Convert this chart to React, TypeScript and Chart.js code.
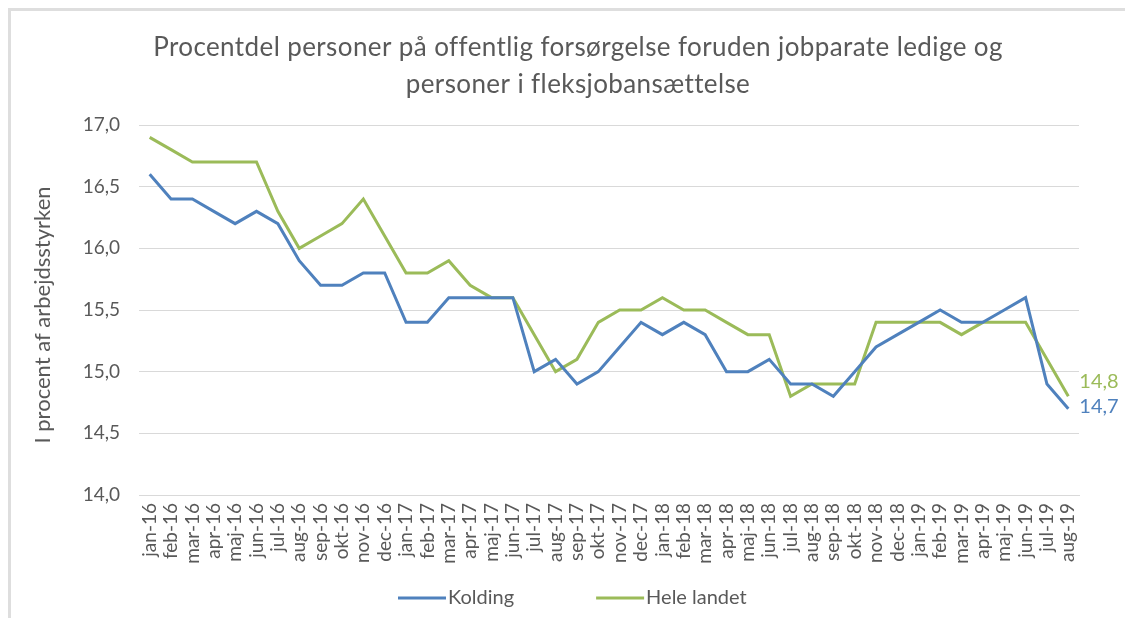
import React, { useEffect, useRef } from "react";
import { Chart, registerables } from "chart.js";

Chart.register(...registerables);

const months = [
  "jan-16", "feb-16", "mar-16", "apr-16", "maj-16", "jun-16", "jul-16", "aug-16", "sep-16", "okt-16", "nov-16", "dec-16",
  "jan-17", "feb-17", "mar-17", "apr-17", "maj-17", "jun-17", "jul-17", "aug-17", "sep-17", "okt-17", "nov-17", "dec-17",
  "jan-18", "feb-18", "mar-18", "apr-18", "maj-18", "jun-18", "jul-18", "aug-18", "sep-18", "okt-18", "nov-18", "dec-18",
  "jan-19", "feb-19", "mar-19", "apr-19", "maj-19", "jun-19", "jul-19", "aug-19",
];

const kolding = [
  16.6, 16.4, 16.4, 16.3, 16.2, 16.3, 16.2, 15.9, 15.7, 15.7, 15.8, 15.8,
  15.4, 15.4, 15.6, 15.6, 15.6, 15.6, 15.0, 15.1, 14.9, 15.0, 15.2, 15.4,
  15.3, 15.4, 15.3, 15.0, 15.0, 15.1, 14.9, 14.9, 14.8, 15.0, 15.2, 15.3,
  15.4, 15.5, 15.4, 15.4, 15.5, 15.6, 14.9, 14.7,
];

const heleLandet = [
  16.9, 16.8, 16.7, 16.7, 16.7, 16.7, 16.3, 16.0, 16.1, 16.2, 16.4, 16.1,
  15.8, 15.8, 15.9, 15.7, 15.6, 15.6, 15.3, 15.0, 15.1, 15.4, 15.5, 15.5,
  15.6, 15.5, 15.5, 15.4, 15.3, 15.3, 14.8, 14.9, 14.9, 14.9, 15.4, 15.4,
  15.4, 15.4, 15.3, 15.4, 15.4, 15.4, 15.1, 14.8,
];

const seriesNames = ["Kolding", "Hele landet"];
const seriesColors = ["#4F81BD", "#9BBB59"];

const titleLines = [
  "Procentdel personer på offentlig forsørgelse foruden jobparate ledige og",
  "personer i fleksjobansættelse",
];
const yAxisTitle = "I procent af arbejdsstyrken";
const yMin = 14;
const yMax = 17;
const yStep = 0.5;

const TEXT = "#595959";
const FONT = "Lato, 'Open Sans', sans-serif";

const fmt = (v: number) => Number(v).toFixed(1).replace(".", ",");

const titlePlugin = {
  id: "customTitle",
  afterDraw(chart: any) {
    const ctx = chart.ctx;
    ctx.save();
    ctx.font = `26px ${FONT}`;
    (ctx as any).letterSpacing = "0.4px";
    ctx.fillStyle = TEXT;
    ctx.textAlign = "center";
    ctx.textBaseline = "middle";
    titleLines.forEach((line, i) => {
      ctx.fillText(line, 578, 48 + i * 37);
    });
    ctx.restore();
  },
};

const yTitlePlugin = {
  id: "customYTitle",
  afterDraw(chart: any) {
    const ctx = chart.ctx;
    const area = chart.chartArea;
    ctx.save();
    ctx.font = `22px ${FONT}`;
    ctx.fillStyle = TEXT;
    ctx.textAlign = "center";
    ctx.textBaseline = "middle";
    ctx.translate(43, (area.top + area.bottom) / 2 + 5);
    ctx.rotate(-Math.PI / 2);
    ctx.fillText(yAxisTitle, 0, 0);
    ctx.restore();
  },
};

const endLabelPlugin = {
  id: "endLabels",
  afterDatasetsDraw(chart: any) {
    const ctx = chart.ctx;
    const dy = [-2, -15];
    chart.data.datasets.forEach((ds: any, i: number) => {
      const meta = chart.getDatasetMeta(i);
      const last = meta.data[meta.data.length - 1];
      if (!last) return;
      ctx.save();
      ctx.font = `20px ${FONT}`;
      ctx.fillStyle = ds.borderColor;
      ctx.textAlign = "left";
      ctx.textBaseline = "middle";
      ctx.fillText(fmt(ds.data[ds.data.length - 1]), last.x + 11, last.y + dy[i]);
      ctx.restore();
    });
  },
};

const legendPlugin = {
  id: "customLegend",
  afterDraw(chart: any) {
    const ctx = chart.ctx;
    ctx.save();
    ctx.font = `20px ${FONT}`;
    ctx.textBaseline = "middle";
    let x = 398;
    const y = 598;
    chart.data.datasets.forEach((ds: any) => {
      ctx.strokeStyle = ds.borderColor;
      ctx.lineWidth = 3;
      ctx.beginPath();
      ctx.moveTo(x, y);
      ctx.lineTo(x + 48, y);
      ctx.stroke();
      ctx.fillStyle = TEXT;
      ctx.fillText(ds.label, x + 50, y);
      x += 50 + ctx.measureText(ds.label).width + 82;
    });
    ctx.restore();
  },
};

export default function App() {
  const ref = useRef<HTMLCanvasElement>(null);

  useEffect(() => {
    if (!ref.current) return;
    const chart = new Chart(ref.current, {
      type: "line",
      data: {
        labels: months,
        datasets: [
          {
            label: seriesNames[0],
            data: kolding,
            borderColor: seriesColors[0],
            backgroundColor: seriesColors[0],
            borderWidth: 3,
            pointRadius: 0,
            tension: 0,
          },
          {
            label: seriesNames[1],
            data: heleLandet,
            borderColor: seriesColors[1],
            backgroundColor: seriesColors[1],
            borderWidth: 3,
            pointRadius: 0,
            tension: 0,
          },
        ],
      },
      options: {
        animation: false,
        responsive: false,
        maintainAspectRatio: false,
        layout: { padding: { left: 10, right: 46, top: 125, bottom: 43 } },
        plugins: {
          legend: { display: false },
          tooltip: { enabled: false },
          title: { display: false },
        },
        scales: {
          x: {
            offset: true,
            grid: { display: false, drawTicks: false },
            border: { display: true, color: "#d9d9d9", width: 1 },
            ticks: {
              autoSkip: false,
              maxRotation: 90,
              minRotation: 90,
              color: TEXT,
              font: { family: FONT, size: 19 },
              padding: 8,
            },
            afterFit: (s: any) => {
              s.height = 80;
            },
          },
          y: {
            min: yMin,
            max: yMax,
            grid: { color: "#d9d9d9", lineWidth: 1, drawTicks: false },
            border: { display: false },
            ticks: {
              stepSize: yStep,
              color: TEXT,
              font: { family: FONT, size: 19 },
              padding: 19,
              callback: (v: any) => fmt(v),
            },
            title: { display: false },
            afterFit: (s: any) => {
              s.width = 129;
            },
          },
        },
      },
      plugins: [endLabelPlugin, titlePlugin, yTitlePlugin, legendPlugin],
    });
    return () => chart.destroy();
  }, []);

  return (
    <div style={{ position: "fixed", left: 0, top: 0, width: 1125, height: 618, background: "#fff" }}>
      <div
        style={{
          position: "absolute",
          left: 8,
          top: 8,
          right: 0,
          bottom: 0,
          borderTop: "3px solid #dedede",
          borderLeft: "3px solid #dedede",
        }}
      />
      <canvas
        ref={ref}
        width={1125}
        height={618}
        style={{ position: "absolute", left: 0, top: 0, width: 1125, height: 618 }}
      />
    </div>
  );
}
